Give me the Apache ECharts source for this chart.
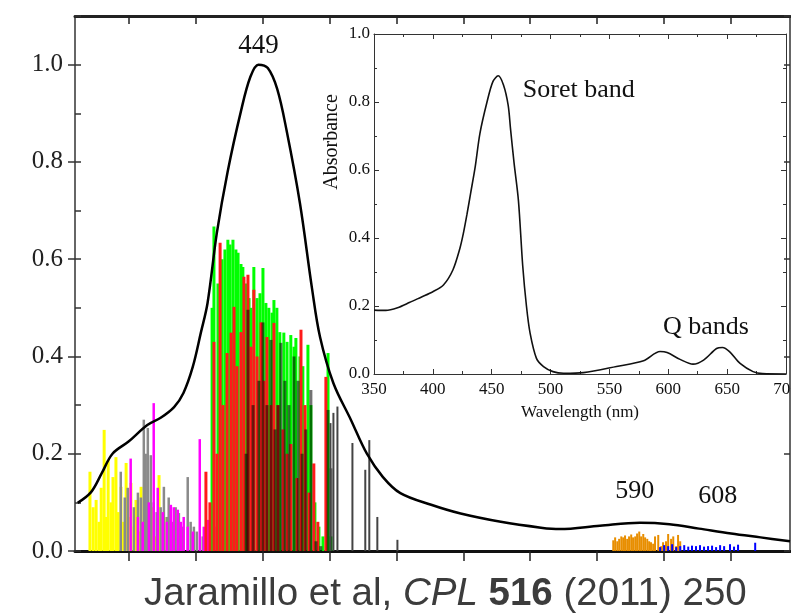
<!DOCTYPE html>
<html>
<head>
<meta charset="utf-8">
<script src="https://cdn.jsdelivr.net/npm/echarts@6.0.0/dist/echarts.min.js"></script>
<style>
html, body { margin: 0; padding: 0; background: #fff; }
#main { width: 791px; height: 615px; }
</style>
</head>
<body>
<div id="main"></div>
<script>
// main panel: computed spectrum (wavelength nm, normalised intensity)
var spectrumNm = [381, 386, 390, 394, 400, 407, 412, 417, 420.5, 424, 427, 429.5, 433, 437, 442, 445.5, 448.5, 452, 455.5, 459,
    464, 468.5, 471.5, 476.5, 483, 489, 495, 501.5, 513, 524, 539, 554, 561, 576, 591, 602, 613, 625, 636, 647];
var spectrumVal = [0.099, 0.121, 0.16, 0.2, 0.225, 0.259, 0.274, 0.296, 0.325, 0.379, 0.449, 0.51, 0.655, 0.78, 0.905, 0.975, 1.0, 0.993, 0.95, 0.865,
    0.715, 0.54, 0.44, 0.345, 0.27, 0.2, 0.152, 0.119, 0.095, 0.077, 0.06, 0.048, 0.045, 0.052, 0.058, 0.055, 0.046, 0.036, 0.028, 0.02];
var mainTicks = [400, 425, 450, 475, 500, 525, 550, 575, 600, 625];
var peakNm = [448.5, 589, 620];
var peakVal = [1.0, 0.058, 0.04];
var peakText = ['449', '590', '608'];

// stick spectra (transitions), one array pair per colour
var yellowNm = [385.4, 386.6, 387.7, 388.8, 389.6, 390.7, 391.4, 392.2, 393.3, 394.0, 395.1, 395.9, 397.0, 397.8, 398.9, 400.0, 400.7, 401.9, 402.6, 403.7, 404.5, 405.6, 407.1, 408.2, 409.0, 410.1, 411.2, 413.1, 414.6];
var yellowH = [0.163, 0.09, 0.105, 0.06, 0.13, 0.249, 0.07, 0.187, 0.1, 0.152, 0.193, 0.08, 0.132, 0.06, 0.181, 0.07, 0.14, 0.05, 0.105, 0.04, 0.132, 0.05, 0.078, 0.04, 0.09, 0.03, 0.156, 0.07, 0.037];
var grayNm = [397.0, 398.5, 399.6, 401.9, 403.4, 404.5, 405.6, 406.3, 407.1, 408.2, 409.3, 410.4, 411.9, 413.1, 414.2, 414.9, 416.4, 417.5, 418.7, 420.1, 422.0, 423.1, 424.3, 425.4, 427.6];
var grayH = [0.163, 0.11, 0.13, 0.09, 0.12, 0.11, 0.27, 0.2, 0.253, 0.197, 0.1, 0.08, 0.09, 0.132, 0.07, 0.11, 0.06, 0.09, 0.078, 0.05, 0.152, 0.06, 0.05, 0.04, 0.03];
var magentaNm = [400.7, 403.4, 405.2, 407.5, 409.3, 410.8, 412.7, 414.2, 415.7, 416.8, 418.3, 419.4, 420.5, 422.0, 423.9, 426.5, 428.0, 429.5, 430.6, 431.7, 432.8, 434.0, 435.1, 436.6];
var magentaH = [0.19, 0.07, 0.06, 0.1, 0.304, 0.13, 0.08, 0.06, 0.095, 0.09, 0.085, 0.06, 0.07, 0.05, 0.04, 0.23, 0.05, 0.064, 0.04, 0.03, 0.05, 0.02, 0.03, 0.02];
var greenNm = [431.0, 431.7, 433.2, 434.7, 435.8, 436.9, 437.7, 438.8, 439.9, 440.7, 441.8, 442.5, 443.7, 444.8, 445.5, 446.6, 447.8, 448.9, 450.0, 451.1,
    452.2, 453.4, 454.1, 455.2, 456.3, 457.8, 459.0, 460.4, 461.6, 462.3, 463.8, 464.9, 466.8, 467.9, 469.4, 470.9, 472.4, 474.3, 475.4];
var greenH = [0.5, 0.667, 0.55, 0.6, 0.62, 0.64, 0.63, 0.64, 0.62, 0.613, 0.59, 0.584, 0.55, 0.52, 0.5, 0.584, 0.52, 0.53, 0.582, 0.51,
    0.5, 0.49, 0.516, 0.5, 0.45, 0.449, 0.43, 0.444, 0.42, 0.438, 0.4, 0.38, 0.424, 0.3, 0.1, 0.05, 0.03, 0.407, 0.03];
var redNm = [428.7, 430.2, 431.7, 432.8, 434.0, 435.1, 436.6, 438.1, 439.2, 440.3, 441.8, 442.9, 444.4, 445.5, 446.6, 447.8, 449.3, 450.4, 451.5, 453.0,
    454.1, 455.6, 457.5, 459.0, 460.4, 462.7, 464.2, 465.7, 467.2, 469.0, 470.5, 473.5];
var redH = [0.163, 0.1, 0.43, 0.2, 0.634, 0.3, 0.407, 0.449, 0.502, 0.38, 0.45, 0.564, 0.568, 0.42, 0.537, 0.4, 0.47, 0.35, 0.44, 0.3,
    0.469, 0.3, 0.25, 0.2, 0.22, 0.15, 0.455, 0.3, 0.12, 0.18, 0.06, 0.358];
var darkNm = [443.7, 444.4, 446.3, 448.5, 450.0, 451.5, 453.0, 454.5, 455.6, 456.7, 458.2, 459.7, 461.6, 463.1, 464.6, 466.0, 467.9, 469.8, 471.6, 474.3, 475.4];
var darkH = [0.2, 0.496, 0.3, 0.35, 0.47, 0.3, 0.434, 0.25, 0.3, 0.428, 0.35, 0.3, 0.4, 0.35, 0.2, 0.25, 0.331, 0.02, 0.01, 0.29, 0.17];
var blackNm = [475.4, 476.5, 478.0, 483.6, 488.4, 489.9, 492.9, 500.4];
var blackH = [0.263, 0.284, 0.297, 0.222, 0.167, 0.228, 0.07, 0.023];
var orangeNm = [581.0, 581.7, 582.5, 583.2, 584.0, 584.7, 585.4, 586.2, 586.9, 587.7, 588.4, 589.2, 589.9, 590.7, 591.4, 592.2,
    592.9, 593.7, 594.4, 595.1, 595.9, 596.6, 597.8, 598.9, 599.6, 600.7, 601.5, 602.6, 603.4, 604.5, 605.2, 606.0];
var orangeH = [0.022, 0.028, 0.02, 0.025, 0.03, 0.028, 0.032, 0.025, 0.03, 0.034, 0.028, 0.03, 0.036, 0.04, 0.03, 0.035,
    0.028, 0.025, 0.02, 0.018, 0.015, 0.03, 0.033, 0.01, 0.018, 0.02, 0.035, 0.025, 0.03, 0.01, 0.033, 0.02];
var blueNm = [598.5, 600.0, 601.5, 603.0, 604.5, 606.0, 607.5, 609.0, 610.4, 611.9, 613.4, 614.9, 616.4, 617.9, 619.4, 620.9, 622.4, 624.6, 626.1, 627.6, 634.0];
var blueH = [0.008, 0.012, 0.01, 0.014, 0.008, 0.01, 0.012, 0.009, 0.011, 0.01, 0.012, 0.009, 0.01, 0.011, 0.008, 0.012, 0.01, 0.014, 0.009, 0.013, 0.017];

// inset: measured absorbance
var insetNm = [350, 360, 370, 380, 390, 400, 409, 417, 423, 426, 429, 432, 436, 440, 446, 451, 455.5, 460, 464, 466,
    469, 472.7, 476.3, 479.5, 482.6, 488, 494, 502, 511, 528, 556, 579, 593, 599, 610, 621, 630, 641, 646, 652, 661, 672, 680, 700];
var insetAbs = [0.188, 0.187, 0.195, 0.21, 0.226, 0.242, 0.262, 0.306, 0.37, 0.415, 0.47, 0.53, 0.61, 0.708, 0.8, 0.86, 0.877, 0.85, 0.79, 0.72,
    0.62, 0.51, 0.32, 0.2, 0.12, 0.046, 0.022, 0.007, 0.002, 0.004, 0.022, 0.039, 0.066, 0.063, 0.043, 0.029, 0.041, 0.075, 0.078, 0.066, 0.031, 0.007, 0.001, 0];
var bandNm = [476, 595];
var bandAbs = [0.835, 0.138];
var bandText = ['Soret band', 'Q bands'];

var serif = 'Liberation Serif';

function pairs(xs, ys) {
    return xs.map(function (x, i) { return [x, ys[i]]; });
}
function sticks(name, xs, ys, color, width, opacity) {
    return {
        name: name,
        type: 'bar',
        xAxisIndex: 0,
        yAxisIndex: 0,
        barWidth: width,
        barGap: '-100%',
        silent: true,
        data: pairs(xs, ys),
        itemStyle: { color: color, opacity: opacity == null ? 1 : opacity }
    };
}

var chart = echarts.init(document.getElementById('main'));
chart.setOption({
    animation: false,
    title: {
        left: 139,
        top: 570,
        text: '{n|Jaramillo et al, }{i|CPL }{b|516}{n| (2011) 250}',
        textStyle: {
            fontWeight: 'normal',
            rich: {
                n: { fontFamily: 'Liberation Sans', fontSize: 38.5, color: '#3c3c3c', fontWeight: 'normal' },
                i: { fontFamily: 'Liberation Sans', fontSize: 38.5, color: '#3c3c3c', fontWeight: 'normal', fontStyle: 'italic' },
                b: { fontFamily: 'Liberation Sans', fontSize: 38.5, color: '#3c3c3c', fontWeight: 'bold' }
            }
        }
    },
    grid: [
        { left: 75, top: 16, width: 715, height: 535, outerBoundsMode: 'none' },
        { left: 374, top: 34, width: 412, height: 340, outerBoundsMode: 'none' }
    ],
    xAxis: [
        {
            gridIndex: 0, type: 'value', min: 380, max: 647, position: 'bottom',
            axisLine: { onZero: false, lineStyle: { color: '#111', width: 3 } },
            axisTick: { customValues: mainTicks, length: 10, lineStyle: { color: '#222', width: 1.5 } },
            axisLabel: { show: false },
            splitLine: { show: false }
        },
        {
            gridIndex: 0, type: 'value', min: 380, max: 647, position: 'top',
            axisLine: { onZero: false, lineStyle: { color: '#222', width: 3 } },
            axisTick: { customValues: mainTicks, inside: true, length: 8, lineStyle: { color: '#222', width: 1.5 } },
            axisLabel: { show: false },
            splitLine: { show: false }
        },
        {
            gridIndex: 1, type: 'value', min: 350, max: 700, interval: 50, position: 'bottom',
            name: 'Wavelength (nm)', nameLocation: 'middle', nameGap: 30,
            nameTextStyle: { fontFamily: serif, fontSize: 17, color: '#111' },
            axisLine: { onZero: false, lineStyle: { color: '#333', width: 1 } },
            axisTick: { inside: true, length: 5, lineStyle: { color: '#333' } },
            minorTick: { show: true, splitNumber: 2, length: 3, lineStyle: { color: '#333' } },
            axisLabel: { fontFamily: serif, fontSize: 17, color: '#111', margin: 7 },
            splitLine: { show: false }
        },
        {
            gridIndex: 1, type: 'value', min: 350, max: 700, interval: 50, position: 'top',
            axisLine: { onZero: false, lineStyle: { color: '#333', width: 1 } },
            axisTick: { inside: true, length: 5, lineStyle: { color: '#333' } },
            minorTick: { show: true, splitNumber: 2, length: 3, lineStyle: { color: '#333' } },
            axisLabel: { show: false },
            splitLine: { show: false }
        }
    ],
    yAxis: [
        {
            gridIndex: 0, type: 'value', min: 0, max: 1.1, interval: 0.2, position: 'left',
            axisLine: { show: true, onZero: false, lineStyle: { color: '#333', width: 1.5 } },
            axisTick: { length: 7, lineStyle: { color: '#333', width: 1.5 } },
            axisLabel: {
                showMaxLabel: false, margin: 12, fontFamily: serif, fontSize: 25, color: '#222',
                formatter: function (v) { return v.toFixed(1); }
            },
            splitLine: { show: false }
        },
        {
            gridIndex: 0, type: 'value', min: 0, max: 1.1, interval: 0.1, position: 'left',
            axisLine: { show: false, onZero: false },
            axisTick: { inside: true, length: 6, lineStyle: { color: '#333', width: 1.5 } },
            axisLabel: { show: false },
            splitLine: { show: false }
        },
        {
            gridIndex: 0, type: 'value', min: 0, max: 1.1, interval: 0.2, position: 'right',
            axisLine: { show: true, onZero: false, lineStyle: { color: '#333', width: 1.5 } },
            axisTick: { inside: true, length: 6, lineStyle: { color: '#333', width: 1.5 } },
            axisLabel: { show: false },
            splitLine: { show: false }
        },
        {
            gridIndex: 1, type: 'value', min: 0, max: 1, interval: 0.2, position: 'left',
            axisLine: { show: true, onZero: false, lineStyle: { color: '#333', width: 1 } },
            axisTick: { inside: true, length: 5, lineStyle: { color: '#333' } },
            minorTick: { show: true, splitNumber: 2, length: 3, lineStyle: { color: '#333' } },
            axisLabel: {
                margin: 4, fontFamily: serif, fontSize: 17, color: '#111',
                formatter: function (v) { return v.toFixed(1); }
            },
            splitLine: { show: false }
        },
        {
            gridIndex: 1, type: 'value', min: 0, max: 1, interval: 0.2, position: 'right',
            axisLine: { show: true, onZero: false, lineStyle: { color: '#333', width: 1 } },
            axisTick: { inside: true, length: 5, lineStyle: { color: '#333' } },
            minorTick: { show: true, splitNumber: 2, length: 3, lineStyle: { color: '#333' } },
            axisLabel: { show: false },
            splitLine: { show: false }
        }
    ],
    graphic: [{
        type: 'text',
        x: 332,
        y: 142,
        rotation: Math.PI / 2,
        style: {
            text: 'Absorbance', fontFamily: serif, fontSize: 20, fill: '#111',
            textAlign: 'center', textVerticalAlign: 'middle'
        }
    }],
    series: [
        sticks('yellow', yellowNm, yellowH, '#ffff00', 3),
        sticks('gray', grayNm, grayH, '#8a8a8a', 2.5),
        sticks('magenta', magentaNm, magentaH, '#ff00ff', 2.5),
        sticks('green', greenNm, greenH, '#00ff00', 3),
        sticks('red', redNm, redH, '#ff1a1a', 3),
        sticks('dark', darkNm, darkH, '#000000', 3, 0.55),
        sticks('black', blackNm, blackH, '#444444', 2),
        sticks('orange', orangeNm, orangeH, '#e88e00', 2),
        sticks('blue', blueNm, blueH, '#0000ff', 2),
        {
            name: 'spectrum',
            type: 'line',
            xAxisIndex: 0,
            yAxisIndex: 0,
            z: 5,
            smooth: 0.35,
            showSymbol: false,
            silent: true,
            data: pairs(spectrumNm, spectrumVal),
            lineStyle: { color: '#000', width: 2.5 },
            markPoint: {
                symbol: 'circle',
                symbolSize: 1,
                itemStyle: { color: 'rgba(0,0,0,0)' },
                label: {
                    show: true, position: 'top', fontFamily: serif, fontSize: 27, color: '#111',
                    formatter: function (p) { return p.name; }
                },
                data: [
                    { name: peakText[0], coord: [peakNm[0], peakVal[0]], label: { distance: 5 } },
                    { name: peakText[1], coord: [peakNm[1], peakVal[1]], label: { distance: 18, fontSize: 26 } },
                    { name: peakText[2], coord: [peakNm[2], peakVal[2]], label: { distance: 22, fontSize: 26 } }
                ]
            }
        },
        {
            name: 'absorbance',
            type: 'line',
            xAxisIndex: 2,
            yAxisIndex: 3,
            smooth: 0.3,
            showSymbol: false,
            silent: true,
            data: pairs(insetNm, insetAbs),
            lineStyle: { color: '#111', width: 1.6 },
            markPoint: {
                symbol: 'circle',
                symbolSize: 1,
                itemStyle: { color: 'rgba(0,0,0,0)' },
                label: {
                    show: true, position: 'right', distance: 0, fontFamily: serif, fontSize: 26, color: '#111',
                    formatter: function (p) { return p.name; }
                },
                data: bandText.map(function (t, i) {
                    return { name: t, coord: [bandNm[i], bandAbs[i]] };
                })
            }
        }
    ]
});
</script>
</body>
</html>
